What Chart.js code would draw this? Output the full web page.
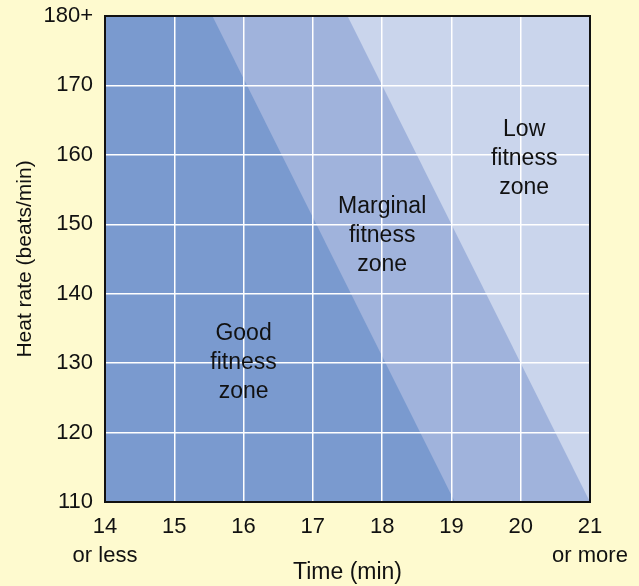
<!DOCTYPE html>
<html>
<head>
<meta charset="utf-8">
<script src="https://cdn.jsdelivr.net/npm/chart.js@4"></script>
<style>
  body { margin: 0; background: #fefacf; }
  #wrap { width: 639px; height: 586px; }
</style>
</head>
<body>
<div id="wrap"><canvas id="zones"></canvas></div>
<script>
// zone edges (time in min, heart rate in beats/min)
const goodEdgeTime = [14, 15.55, 19.05];
const goodEdgeRate = [180, 180, 110];
const marginalEdgeTime = [14, 17.5, 21];
const marginalEdgeRate = [180, 180, 110];
const lowEdgeTime = [14, 21];
const lowEdgeRate = [180, 180];

const zoneNames = [['Good', 'fitness', 'zone'], ['Marginal', 'fitness', 'zone'], ['Low', 'fitness', 'zone']];
const zoneTime = [16, 18, 20.05];
const zoneRate = [130, 148.3, 159.5];

const timeTicks = [14, 15, 16, 17, 18, 19, 20, 21];
const rateTicks = [110, 120, 130, 140, 150, 160, 170, 180];

const FONT = 'Liberation Sans, Arial, sans-serif';

function pts(xs, ys) {
  return xs.map((x, i) => ({ x: x, y: ys[i] }));
}

const zoneText = {
  id: 'zoneText',
  afterDraw(chart) {
    const ctx = chart.ctx, xs = chart.scales.x, ys = chart.scales.y;
    ctx.save();
    ctx.font = '23px ' + FONT;
    ctx.fillStyle = '#111';
    ctx.textAlign = 'center';
    ctx.textBaseline = 'middle';
    zoneNames.forEach((lines, i) => {
      const cx = xs.getPixelForValue(zoneTime[i]);
      const cy = ys.getPixelForValue(zoneRate[i]);
      lines.forEach((t, j) => ctx.fillText(t, cx, cy + (j - 1) * 29));
    });
    // frame round the plot
    const a = chart.chartArea;
    ctx.strokeStyle = '#111';
    ctx.lineWidth = 2;
    ctx.strokeRect(a.left, a.top, a.right - a.left, a.bottom - a.top);
    ctx.restore();
  }
};

new Chart(document.getElementById('zones'), {
  type: 'scatter',
  data: {
    datasets: [
      { data: pts(goodEdgeTime, goodEdgeRate), backgroundColor: '#7a9acf', order: 0 },
      { data: pts(marginalEdgeTime, marginalEdgeRate), backgroundColor: '#a0b3dc', order: 1 },
      { data: pts(lowEdgeTime, lowEdgeRate), backgroundColor: '#cad5ec', order: 2 }
    ].map(d => Object.assign(d, {
      showLine: true, fill: 'start', borderWidth: 0, pointRadius: 0, tension: 0
    }))
  },
  options: {
    responsive: true,
    maintainAspectRatio: false,
    animation: false,
    layout: { padding: { top: 16, right: 49, left: 0, bottom: 0 } },
    plugins: { legend: { display: false }, tooltip: { enabled: false } },
    scales: {
      x: {
        type: 'linear', min: 14, max: 21, z: 1,
        afterBuildTicks: s => { s.ticks = timeTicks.map(v => ({ value: v })); },
        afterFit: s => { s.height = 84; s.paddingLeft = 0; s.paddingRight = 0; },
        grid: { color: '#ffffff', lineWidth: 1.5, drawTicks: false, z: 1 },
        border: { display: false },
        ticks: {
          padding: 10, color: '#111', maxRotation: 0, autoSkip: false,
          font: { family: FONT, size: 22, lineHeight: 1.32 },
          callback: v => v === 14 ? ['14', 'or less'] : v === 21 ? ['21', 'or more'] : String(v)
        },
        title: {
          display: true, text: 'Time (min)', color: '#111',
          font: { family: FONT, size: 23 }, padding: { top: 0, bottom: 0 }
        }
      },
      y: {
        type: 'linear', min: 110, max: 180, z: 1,
        afterBuildTicks: s => { s.ticks = rateTicks.map(v => ({ value: v })); },
        afterFit: s => { s.width = 105; s.paddingTop = 0; s.paddingBottom = 0; },
        grid: { color: '#ffffff', lineWidth: 1.5, drawTicks: false, z: 1 },
        border: { display: false },
        ticks: {
          padding: 12, color: '#111', autoSkip: false,
          font: { family: FONT, size: 22 },
          callback: v => v === 180 ? '180+' : String(v)
        },
        title: {
          display: true, text: 'Heat rate (beats/min)', color: '#111',
          font: { family: FONT, size: 21 }, padding: { top: 13, bottom: 0 }
        }
      }
    }
  },
  plugins: [zoneText]
});
</script>
</body>
</html>
